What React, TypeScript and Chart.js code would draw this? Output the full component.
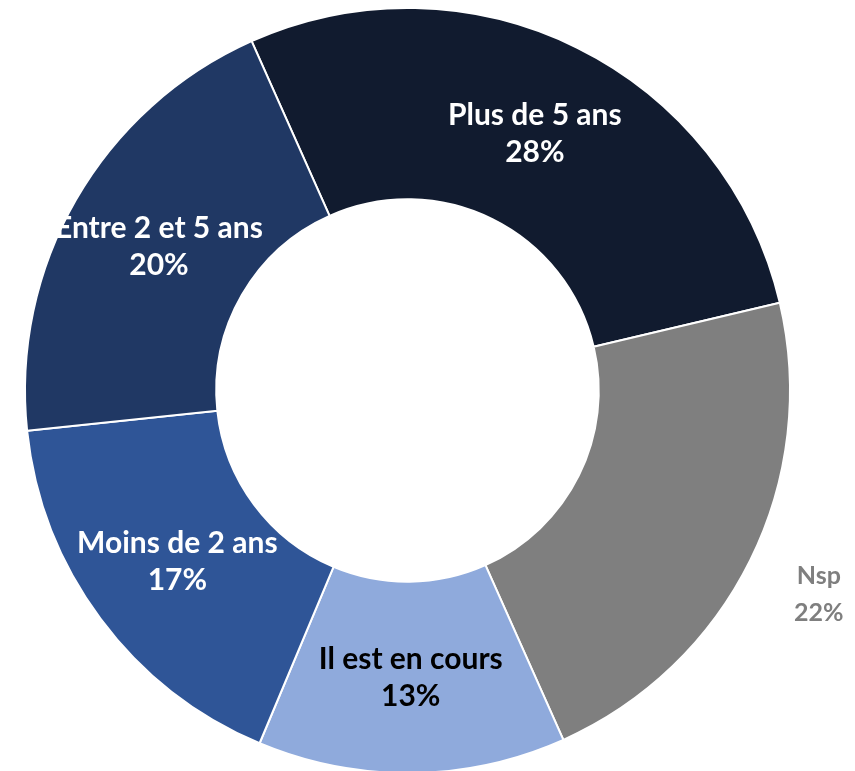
import React, { useEffect, useRef } from 'react';
import { Chart, registerables } from 'chart.js';

Chart.register(...registerables);

const categories = ['Plus de 5 ans', 'Nsp', 'Il est en cours', 'Moins de 2 ans', 'Entre 2 et 5 ans'];
const values = [28, 22, 13, 17, 20];
const percentLabels = ['28%', '22%', '13%', '17%', '20%'];
const sliceColors = ['#111B2F', '#7F7F7F', '#8FAADC', '#2F5597', '#203864'];
const labelColors = ['#FFFFFF', '#7F7F7F', '#000000', '#FFFFFF', '#FFFFFF'];
const labelOutside = [false, true, false, false, false];

const FONT = 'Lato, "Open Sans", sans-serif';

const sliceLabelPlugin = {
  id: 'sliceLabels',
  afterDatasetsDraw(chart: any) {
    const ctx = chart.ctx;
    const meta = chart.getDatasetMeta(0);
    ctx.save();
    ctx.textAlign = 'center';
    ctx.textBaseline = 'middle';
    meta.data.forEach((arc: any, i: number) => {
      const p = arc.getProps(['x', 'y', 'startAngle', 'endAngle', 'innerRadius', 'outerRadius'], true);
      const mid = (p.startAngle + p.endAngle) / 2;
      const outside = labelOutside[i];
      const r = outside ? p.outerRadius * 1.2 : (p.innerRadius + p.outerRadius) / 2;
      const cx = p.x + Math.cos(mid) * r;
      const cy = p.y + Math.sin(mid) * r;
      const size = outside ? 25 : 30;
      const lh = outside ? 37 : 37;
      ctx.font = `bold ${size}px ${FONT}`;
      ctx.fillStyle = labelColors[i];
      ctx.fillText(categories[i], cx, cy - lh / 2);
      ctx.fillText(percentLabels[i], cx, cy + lh / 2);
    });
    ctx.restore();
  },
};

export default function App() {
  const canvasRef = useRef<HTMLCanvasElement | null>(null);

  useEffect(() => {
    const canvas = canvasRef.current;
    if (!canvas) return;
    const chart = new Chart(canvas, {
      type: 'doughnut',
      data: {
        labels: categories,
        datasets: [
          {
            data: values,
            backgroundColor: sliceColors,
            borderColor: '#FFFFFF',
            borderWidth: 2,
            clip: false as any,
          },
        ],
      },
      options: {
        responsive: false,
        animation: false,
        rotation: -24.05,
        cutout: '50%',
        radius: 382.5,
        layout: { padding: { top: 10, right: 40, left: 0, bottom: 0 } },
        plugins: {
          legend: { display: false },
          tooltip: { enabled: false },
          title: { display: false },
        },
      },
      plugins: [sliceLabelPlugin],
    });
    return () => chart.destroy();
  }, []);

  return (
    <div style={{ position: 'fixed', left: 0, top: 0, width: 855, height: 771, background: '#FFFFFF' }}>
      <canvas ref={canvasRef} width={855} height={771} style={{ display: 'block', width: 855, height: 771 }} />
    </div>
  );
}
